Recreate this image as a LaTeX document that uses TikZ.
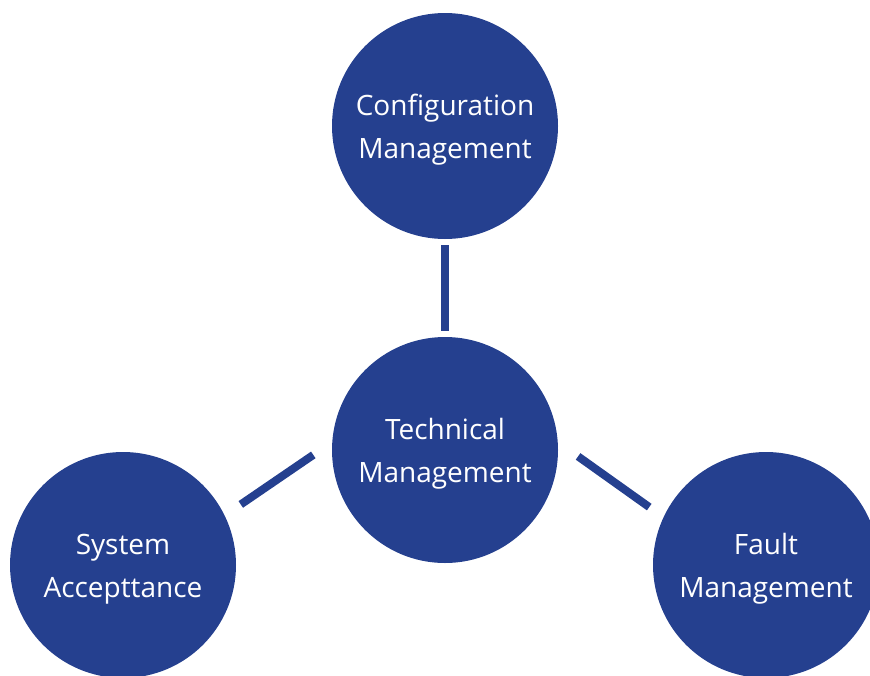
\documentclass[tikz,border=0pt]{standalone}
\usepackage{fontspec}
\setmainfont{Open Sans}
\definecolor{navy}{RGB}{37,64,143}
\begin{document}
\begin{tikzpicture}[x=0.75pt,y=-0.75pt,
  topic/.style={circle,fill=navy,minimum size=169.5pt,inner sep=0pt,align=center,text=white,font=\fontsize{21}{32}\selectfont,
    text height=53.5pt},
  link/.style={draw=navy,line width=6pt}]
\useasboundingbox (0,0) rectangle (870,675);
\clip (0,0) rectangle (870,675);
\node[topic] (config) at (445,126) {Configuration\\Management};
\node[topic] (tech) at (445,450) {Technical\\Management};
\node[topic] (sys) at (123,565) {System\\Accepttance};
\node[topic] (fault) at (766,565) {Fault\\Management};
\draw[link,shorten <=4.5pt,shorten >=4pt] (config.south) -- (tech.north);
\draw[link,shorten <=17pt,shorten >=14.5pt] (tech.176) -- (sys.26);
\draw[link,shorten <=18.5pt,shorten >=13pt] (tech.4) -- (fault.155);
\end{tikzpicture}
\end{document}
